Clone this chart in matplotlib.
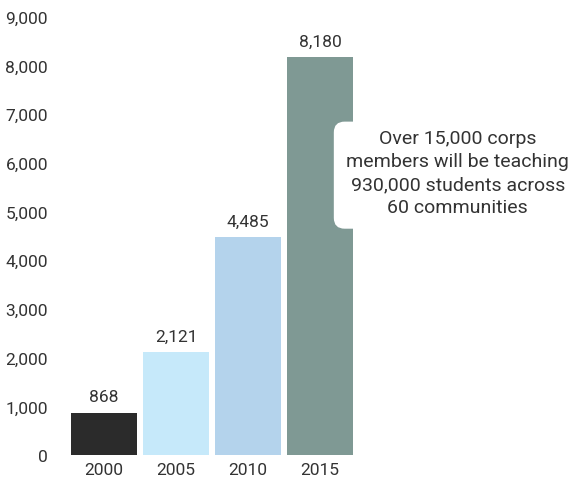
import matplotlib.pyplot as plt
from matplotlib.patches import FancyBboxPatch

# Corps members by year
years = ['2000', '2005', '2010', '2015']
members = [868, 2121, 4485, 8180]
bar_colors = ['#2b2b2b', '#c6e9fa', '#b4d3ec', '#7f9994']
y_ticks = [0, 1000, 2000, 3000, 4000, 5000, 6000, 7000, 8000, 9000]
note = 'Over 15,000 corps\nmembers will be teaching\n930,000 students across\n60 communities'

plt.rcParams['font.family'] = ['Roboto', 'DejaVu Sans']
text_color = '#333333'

fig = plt.figure(figsize=(5.73, 4.89), dpi=100)
ax = fig.add_axes([62 / 573, 33 / 489, 1 - 62 / 573, (456 - 10) / 489])

x = list(range(len(years)))
bars = ax.bar(x, members, width=0.92, color=bar_colors, zorder=2)

# value labels above bars
for xi, v in zip(x, members):
    ax.annotate(f'{v:,}', (xi, v), xytext=(0, 6), textcoords='offset points',
                ha='center', va='bottom', fontsize=12.5, color=text_color)

ax.set_xlim(-0.583, 6.51)
ax.set_ylim(0, 9164)
ax.set_xticks(x)
ax.set_xticklabels(years)
ax.set_yticks(y_ticks)
ax.set_yticklabels([f'{t:,}' for t in y_ticks])
ax.tick_params(length=0, labelsize=12.5, labelcolor=text_color)
ax.tick_params(axis='x', pad=5)
ax.tick_params(axis='y', pad=10)
for s in ax.spines.values():
    s.set_visible(False)

# white rounded callout box cutting into the 2015 bar
box = FancyBboxPatch((3.19, 4650), 3.0, 2200,
                     boxstyle='round,pad=0,rounding_size=0.15',
                     mutation_aspect=1479, fc='white', ec='none', zorder=3)
ax.add_patch(box)
ax.text(4.91, 5800, note, ha='center', va='center', fontsize=14,
        color=text_color, linespacing=1.35, zorder=4)

fig.savefig('out.png', dpi=100)
